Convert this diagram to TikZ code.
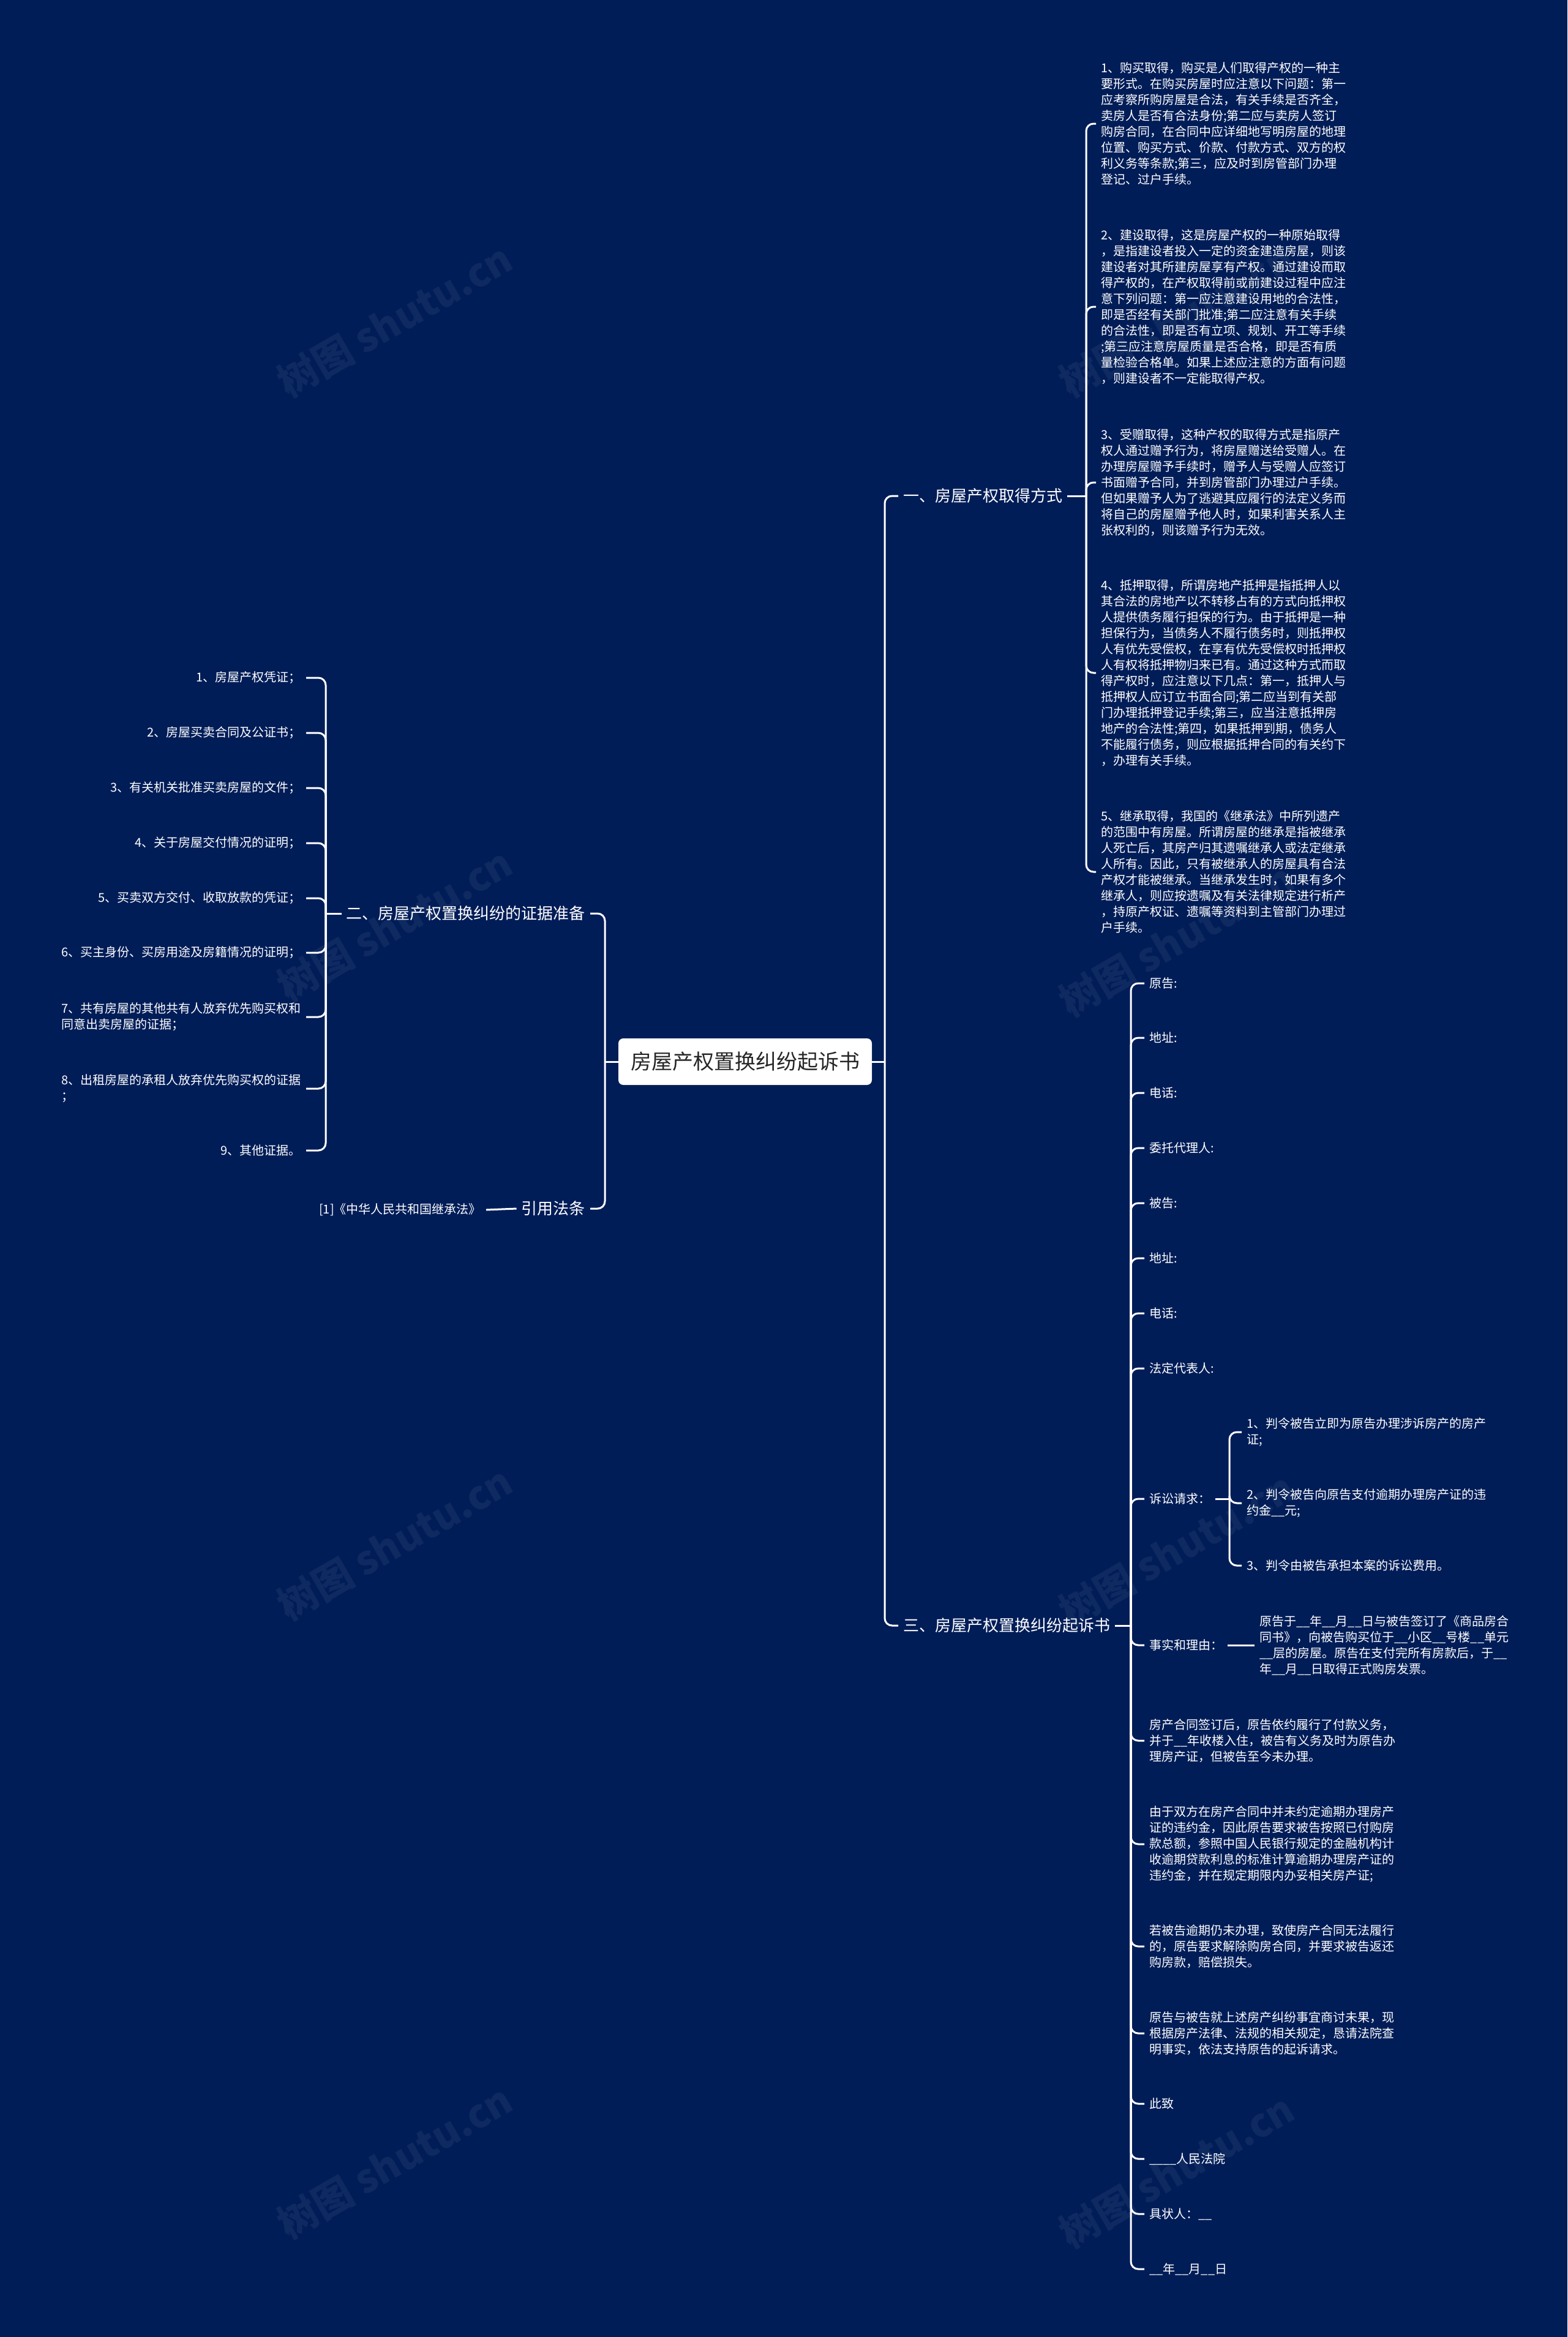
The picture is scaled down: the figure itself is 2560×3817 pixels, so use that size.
\documentclass[tikz,border=0pt]{standalone}
\usepackage{fontspec}
\setmainfont{Noto Sans CJK SC}
\usetikzlibrary{positioning}
\definecolor{bgnavy}{RGB}{1,29,88}
\definecolor{titleink}{RGB}{38,38,38}

\begin{document}
\begin{tikzpicture}[x=1pt,y=-1pt,
  link/.style={draw=white,line width=3pt,rounded corners=12pt},
  leaf/.style={text=white,font=\fontsize{20}{26}\selectfont,align=left,inner xsep=8pt,inner ysep=2pt},
  branch/.style={text=white,font=\fontsize{26}{32}\selectfont,inner xsep=8pt,inner ysep=3pt},
  root/.style={fill=white,rounded corners=8pt,text=titleink,font=\fontsize{34}{40}\selectfont,
    minimum width=414pt,minimum height=76pt},
  wmark/.style={text=white,opacity=0.06,font=\fontsize{64}{70}\selectfont\bfseries,rotate=30}]

  % canvas
  \fill[bgnavy] (0,0) rectangle (2560,3817);
  \useasboundingbox (0,0) rectangle (2560,3817);

  % watermarks
  \foreach \wx/\wy [count=\i] in {645/523,1922/523,645/1510,1922/1535,645/2520,1922/2530,645/3530,1922/3545}
    \node[wmark] (wm\i) at (\wx,\wy) {树图 shutu.cn};

  % root and main branches
  \node[root] (root) at (1217,1734) {房屋产权置换纠纷起诉书};
  \node[branch,anchor=west] (acq) at (1467,810) {一、房屋产权取得方式};
  \node[branch,anchor=west] (suit) at (1467,2655) {三、房屋产权置换纠纷起诉书};
  \node[branch,anchor=east] (evid) at (964,1492) {二、房屋产权置换纠纷的证据准备};
  \node[branch,anchor=east] (law) at (964,1974) {引用法条};

  \coordinate (jR) at (1445,1734);
  \coordinate (jL) at (988,1734);
  \draw[link] (root.east) -- (jR);
  \draw[link] (jR) |- (acq.west);
  \draw[link] (jR) |- (suit.west);
  \draw[link] (root.west) -- (jL);
  \draw[link] (jL) |- (evid.east);
  \draw[link] (jL) |- (law.east);

  % one: ways of acquiring
  \node[leaf,anchor=west] (acq1) at (1790,202) {1、购买取得，购买是人们取得产权的一种主\\要形式。在购买房屋时应注意以下问题：第一\\应考察所购房屋是合法，有关手续是否齐全，\\卖房人是否有合法身份;第二应与卖房人签订\\购房合同，在合同中应详细地写明房屋的地理\\位置、购买方式、价款、付款方式、双方的权\\利义务等条款;第三，应及时到房管部门办理\\登记、过户手续。};
  \node[leaf,anchor=west] (acq2) at (1790,501) {2、建设取得，这是房屋产权的一种原始取得\\，是指建设者投入一定的资金建造房屋，则该\\建设者对其所建房屋享有产权。通过建设而取\\得产权的，在产权取得前或前建设过程中应注\\意下列问题：第一应注意建设用地的合法性，\\即是否经有关部门批准;第二应注意有关手续\\的合法性，即是否有立项、规划、开工等手续\\;第三应注意房屋质量是否合格，即是否有质\\量检验合格单。如果上述应注意的方面有问题\\，则建设者不一定能取得产权。};
  \node[leaf,anchor=west] (acq3) at (1790,788) {3、受赠取得，这种产权的取得方式是指原产\\权人通过赠予行为，将房屋赠送给受赠人。在\\办理房屋赠予手续时，赠予人与受赠人应签订\\书面赠予合同，并到房管部门办理过户手续。\\但如果赠予人为了逃避其应履行的法定义务而\\将自己的房屋赠予他人时，如果利害关系人主\\张权利的，则该赠予行为无效。};
  \node[leaf,anchor=west] (acq4) at (1790,1099) {4、抵押取得，所谓房地产抵押是指抵押人以\\其合法的房地产以不转移占有的方式向抵押权\\人提供债务履行担保的行为。由于抵押是一种\\担保行为，当债务人不履行债务时，则抵押权\\人有优先受偿权，在享有优先受偿权时抵押权\\人有权将抵押物归来已有。通过这种方式而取\\得产权时，应注意以下几点：第一，抵押人与\\抵押权人应订立书面合同;第二应当到有关部\\门办理抵押登记手续;第三，应当注意抵押房\\地产的合法性;第四，如果抵押到期，债务人\\不能履行债务，则应根据抵押合同的有关约下\\，办理有关手续。};
  \node[leaf,anchor=west] (acq5) at (1790,1424) {5、继承取得，我国的《继承法》中所列遗产\\的范围中有房屋。所谓房屋的继承是指被继承\\人死亡后，其房产归其遗嘱继承人或法定继承\\人所有。因此，只有被继承人的房屋具有合法\\产权才能被继承。当继承发生时，如果有多个\\继承人，则应按遗嘱及有关法律规定进行析产\\，持原产权证、遗嘱等资料到主管部门办理过\\户手续。};

  \coordinate (jA) at (1774,810);
  \draw[link] (acq.east) -- (jA);
  \foreach \n in {acq1,acq2,acq3,acq4,acq5}
    \draw[link] (jA) |- (\n.west);

  % two: evidence
  \node[leaf,anchor=east] (evid1) at (500,1107) {1、房屋产权凭证；};
  \node[leaf,anchor=east] (evid2) at (500,1197) {2、房屋买卖合同及公证书；};
  \node[leaf,anchor=east] (evid3) at (500,1287) {3、有关机关批准买卖房屋的文件；};
  \node[leaf,anchor=east] (evid4) at (500,1377) {4、关于房屋交付情况的证明；};
  \node[leaf,anchor=east] (evid5) at (500,1467) {5、买卖双方交付、收取放款的凭证；};
  \node[leaf,anchor=east] (evid6) at (500,1556) {6、买主身份、买房用途及房籍情况的证明；};
  \node[leaf,anchor=east] (evid7) at (500,1661) {7、共有房屋的其他共有人放弃优先购买权和\\同意出卖房屋的证据；};
  \node[leaf,anchor=east] (evid8) at (500,1778) {8、出租房屋的承租人放弃优先购买权的证据\\；};
  \node[leaf,anchor=east] (evid9) at (500,1879) {9、其他证据。};

  \coordinate (jE) at (532,1492);
  \draw[link] (evid.west) -- (jE);
  \foreach \n in {evid1,evid2,evid3,evid4,evid5,evid6,evid7,evid8,evid9}
    \draw[link] (jE) |- (\n.east);

  % cited law
  \node[leaf,anchor=east] (lawref) at (794,1976) {[1]《中华人民共和国继承法》};
  \draw[link] (law.west) -- (lawref.east);

  % three: the complaint
  \node[leaf,anchor=west] (suit1) at (1869,1606) {原告:};
  \node[leaf,anchor=west] (suit2) at (1869,1695) {地址:};
  \node[leaf,anchor=west] (suit3) at (1869,1785) {电话:};
  \node[leaf,anchor=west] (suit4) at (1869,1875) {委托代理人:};
  \node[leaf,anchor=west] (suit5) at (1869,1965) {被告:};
  \node[leaf,anchor=west] (suit6) at (1869,2055) {地址:};
  \node[leaf,anchor=west] (suit7) at (1869,2145) {电话:};
  \node[leaf,anchor=west] (suit8) at (1869,2235) {法定代表人:};
  \node[leaf,anchor=west] (suit9) at (1869,2448) {诉讼请求：};
  \node[leaf,anchor=west] (suit10) at (1869,2687) {事实和理由：};
  \node[leaf,anchor=west] (suit11) at (1869,2843) {房产合同签订后，原告依约履行了付款义务，\\并于\_\_年收楼入住，被告有义务及时为原告办\\理房产证，但被告至今未办理。};
  \node[leaf,anchor=west] (suit12) at (1869,3012) {由于双方在房产合同中并未约定逾期办理房产\\证的违约金，因此原告要求被告按照已付购房\\款总额，参照中国人民银行规定的金融机构计\\收逾期贷款利息的标准计算逾期办理房产证的\\违约金，并在规定期限内办妥相关房产证;};
  \node[leaf,anchor=west] (suit13) at (1869,3179) {若被告逾期仍未办理，致使房产合同无法履行\\的，原告要求解除购房合同，并要求被告返还\\购房款，赔偿损失。};
  \node[leaf,anchor=west] (suit14) at (1869,3321) {原告与被告就上述房产纠纷事宜商讨未果，现\\根据房产法律、法规的相关规定，恳请法院查\\明事实，依法支持原告的起诉请求。};
  \node[leaf,anchor=west] (suit15) at (1869,3436) {此致};
  \node[leaf,anchor=west] (suit16) at (1869,3526) {\_\_\_\_人民法院};
  \node[leaf,anchor=west] (suit17) at (1869,3616) {具状人：\_\_};
  \node[leaf,anchor=west] (suit18) at (1869,3706) {\_\_年\_\_月\_\_日};

  \coordinate (jS) at (1847,2655);
  \draw[link] (suit.east) -- (jS);
  \foreach \n in {suit1,suit2,suit3,suit4,suit5,suit6,suit7,suit8,suit9,suit10,
                  suit11,suit12,suit13,suit14,suit15,suit16,suit17,suit18}
    \draw[link] (jS) |- (\n.west);

  % claims
  \node[leaf,anchor=west] (claim1) at (2028,2339) {1、判令被告立即为原告办理涉诉房产的房产\\证;};
  \node[leaf,anchor=west] (claim2) at (2028,2455) {2、判令被告向原告支付逾期办理房产证的违\\约金\_\_元;};
  \node[leaf,anchor=west] (claim3) at (2028,2557) {3、判令由被告承担本案的诉讼费用。};

  \coordinate (jC) at (2008,2448);
  \draw[link] (suit9.east) -- (jC);
  \foreach \n in {claim1,claim2,claim3}
    \draw[link] (jC) |- (\n.west);

  % facts
  \node[leaf,anchor=west] (fact1) at (2049,2687) {原告于\_\_年\_\_月\_\_日与被告签订了《商品房合\\同书》，向被告购买位于\_\_小区\_\_号楼\_\_单元\\\_\_层的房屋。原告在支付完所有房款后，于\_\_\\年\_\_月\_\_日取得正式购房发票。};
  \draw[link] (suit10.east) -- (fact1.west);

\end{tikzpicture}
\end{document}
